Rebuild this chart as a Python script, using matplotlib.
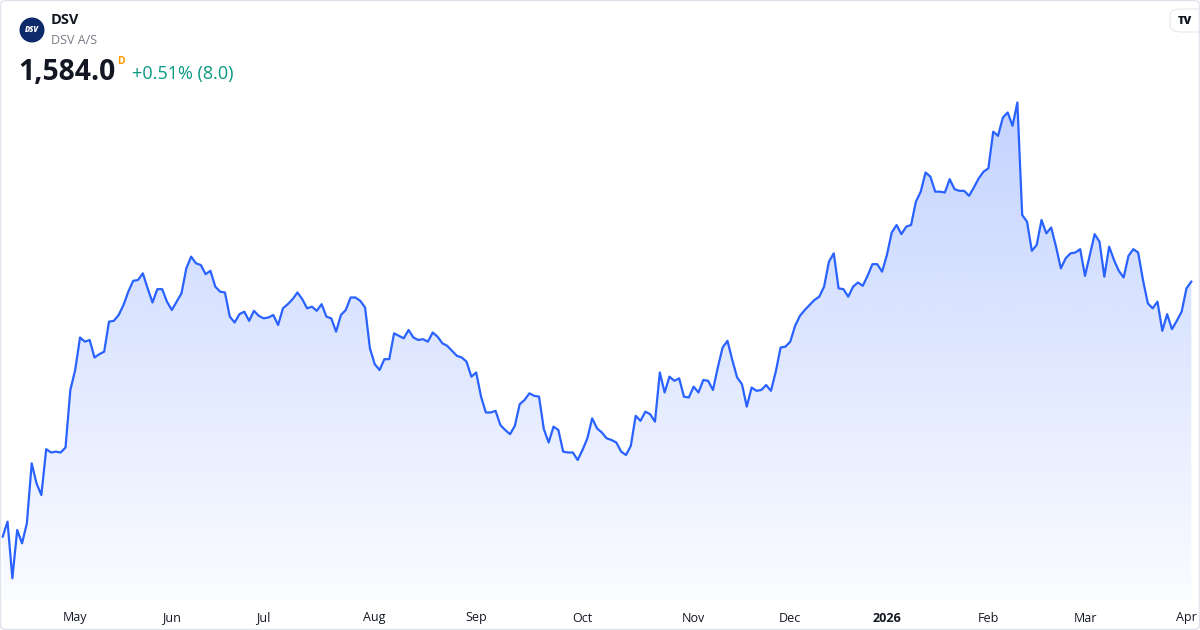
import numpy as np
import pandas as pd
import matplotlib
matplotlib.use("Agg")
import matplotlib.pyplot as plt
from matplotlib.colors import LinearSegmentedColormap
from matplotlib.patches import Ellipse, FancyBboxPatch, Polygon

# DSV A/S daily close (DKK)
holidays = ['2025-04-17', '2025-04-18', '2025-04-21', '2025-05-29', '2025-05-30',
            '2025-06-05', '2025-06-09', '2025-12-24', '2025-12-25', '2025-12-26',
            '2026-01-01']
dates = pd.bdate_range('2025-04-07', '2026-04-01', freq='C', holidays=holidays)

close = [
    # Apr - May 2025
    1278, 1296, 1228, 1286, 1270, 1294, 1366, 1342, 1328, 1383, 1379, 1380, 1379, 1385,
    1454, 1478, 1517, 1512, 1514, 1493, 1497, 1500, 1536, 1537, 1544, 1556, 1572, 1585,
    1586, 1594, 1576, 1559, 1575, 1575, 1560, 1550, 1560, 1570, 1600, 1614, 1606,
    # Jun - Aug
    1604, 1593, 1597, 1578, 1572, 1571, 1542, 1535, 1545, 1548, 1537, 1549, 1543, 1540,
    1541, 1544, 1532, 1552, 1557, 1563, 1571, 1563, 1552, 1554, 1549, 1557, 1542, 1540,
    1524, 1544, 1550, 1565, 1565, 1561, 1553, 1504, 1485, 1478, 1491, 1491, 1522, 1519,
    # Aug - Oct
    1516, 1526, 1517, 1514, 1515, 1512, 1523, 1518, 1510, 1507, 1501, 1495, 1493, 1488,
    1470, 1475, 1446, 1427, 1427, 1429, 1412, 1406, 1401, 1411, 1437, 1442, 1450, 1447,
    1446, 1407, 1391, 1410, 1406, 1380, 1379, 1379, 1370, 1382, 1396,
    1420, 1408, 1403, 1396, 1394, 1391, 1380, 1376, 1387, 1423, 1417, 1428, 1425, 1416,
    # Nov - Dec
    1475, 1451, 1470, 1465, 1468, 1446, 1445, 1458, 1451, 1466, 1465, 1454, 1481, 1505,
    1513, 1490, 1469, 1461, 1434, 1457, 1453, 1454, 1460, 1453, 1476, 1505, 1506, 1512,
    1531, 1543, 1550, 1556,
    # Dec - Feb 2026
    1562, 1566, 1578, 1608, 1618, 1576, 1575, 1566, 1578, 1583, 1579, 1591, 1605, 1605,
    1596, 1616, 1643, 1652, 1641, 1650, 1652, 1680, 1692, 1715, 1710, 1692, 1692, 1691,
    1707, 1695, 1693, 1693, 1687, 1697, 1708, 1716, 1720, 1764, 1759,
    # Feb - Apr 2026
    1781, 1787, 1771, 1799, 1664, 1656, 1621, 1628, 1658, 1642, 1649, 1626, 1600, 1612,
    1618, 1619, 1623, 1591, 1616, 1641, 1632, 1590, 1626, 1610, 1597, 1589, 1615, 1623,
    1619, 1586, 1558, 1552, 1560, 1525, 1545, 1527, 1537, 1548, 1576, 1584,
]

ticker = "DSV"
name = "DSV A/S"
last_price = "1,584.0"
change_text = "+0.51% (8.0)"

W, H = 1200, 630
fig = plt.figure(figsize=(W / 100, H / 100), dpi=100)
fig.patch.set_facecolor("white")

ax = fig.add_axes([0, 30 / H, 1, 600 / H])
ax.set_facecolor("none")
for s in ax.spines.values():
    s.set_visible(False)
ax.set_xticks([])
ax.set_yticks([])

idx = np.arange(len(close))
y = np.array(close, dtype=float)

x_lo, x_hi = -0.56, 247.8
y_lo, y_hi = 1202.0, 1922.0
ax.set_xlim(x_lo, x_hi)
ax.set_ylim(y_lo, y_hi)

# gradient area under the line
blue = np.array([41, 98, 255]) / 255
cmap = LinearSegmentedColormap.from_list(
    "area", [(*blue, 0.02), (*blue, 0.28)])
grad = np.linspace(0, 1, 256).reshape(-1, 1)
top = y.max()
img = ax.imshow(grad, extent=[idx[0], idx[-1], y_lo, top], origin="lower",
                cmap=cmap, aspect="auto", zorder=1)
verts = np.column_stack([np.r_[idx[0], idx, idx[-1]], np.r_[y_lo, y, y_lo]])
poly = Polygon(verts, closed=True, facecolor="none", edgecolor="none")
ax.add_patch(poly)
img.set_clip_path(poly)

ax.plot(idx, y, color="#2962FF", lw=1.6, zorder=3, solid_joinstyle="round")

# month labels at the first trading day of each month
font = "Open Sans"
months = pd.Series(dates.month)
starts = np.where(months.diff().fillna(0) != 0)[0]
x_max_label = (1187 - 2.7) / 4.832
for i in starts:
    d = dates[i]
    if d.month == 1:
        lab, wt = str(d.year), "bold"
    else:
        lab, wt = d.strftime("%b"), "normal"
    ax.text(min(i, x_max_label), -18 / 600, lab, transform=ax.get_xaxis_transform(),
            ha="center", va="center", fontsize=9, color="#131722",
            fontweight=wt, family=font)

# header
def fx(px):
    return px / W

def fy(py):
    return 1 - py / H

fig.add_artist(Ellipse((fx(32), fy(30)), 25 / W, 25 / H, transform=fig.transFigure,
                       facecolor="#0d2b6b", edgecolor="none"))
fig.text(fx(32), fy(30), "DSV", color="white", fontsize=5.5, fontweight="heavy",
         style="italic", ha="center", va="center", family=font)
fig.text(fx(51), fy(20), ticker, fontsize=10.5, fontweight="bold", color="#131722",
         va="center", ha="left", family=font)
fig.text(fx(51), fy(40), name, fontsize=9, color="#787b86", va="center", ha="left",
         family=font)
fig.text(fx(18), fy(73), last_price, fontsize=20.3, fontweight="bold", color="#131722",
         va="center", ha="left", family=font)
fig.text(fx(117), fy(62), "D", fontsize=7.5, fontweight="bold", color="#ff9800",
         va="center", ha="left", family=font)
fig.text(fx(132), fy(74), change_text, fontsize=13, color="#089981", va="center",
         ha="left", family=font)

# TradingView badge
fig.add_artist(FancyBboxPatch((fx(1170), fy(32)), 40 / W, 23 / H,
                              boxstyle="round,pad=0,rounding_size=0.01",
                              transform=fig.transFigure, facecolor="white",
                              edgecolor="#e6e8ee", lw=0.8))
fig.text(fx(1185), fy(21), "TV", fontsize=8, fontweight="heavy", color="#131722",
         ha="center", va="center", family=font)

# outer frame
fig.add_artist(FancyBboxPatch((0.5 / W, 0.5 / H), 1 - 1 / W, 1 - 1 / H,
                              boxstyle="round,pad=0,rounding_size=0.006",
                              transform=fig.transFigure, facecolor="none",
                              edgecolor="#e0e3eb", lw=1.0))

plt.savefig("out.png", dpi=100)
